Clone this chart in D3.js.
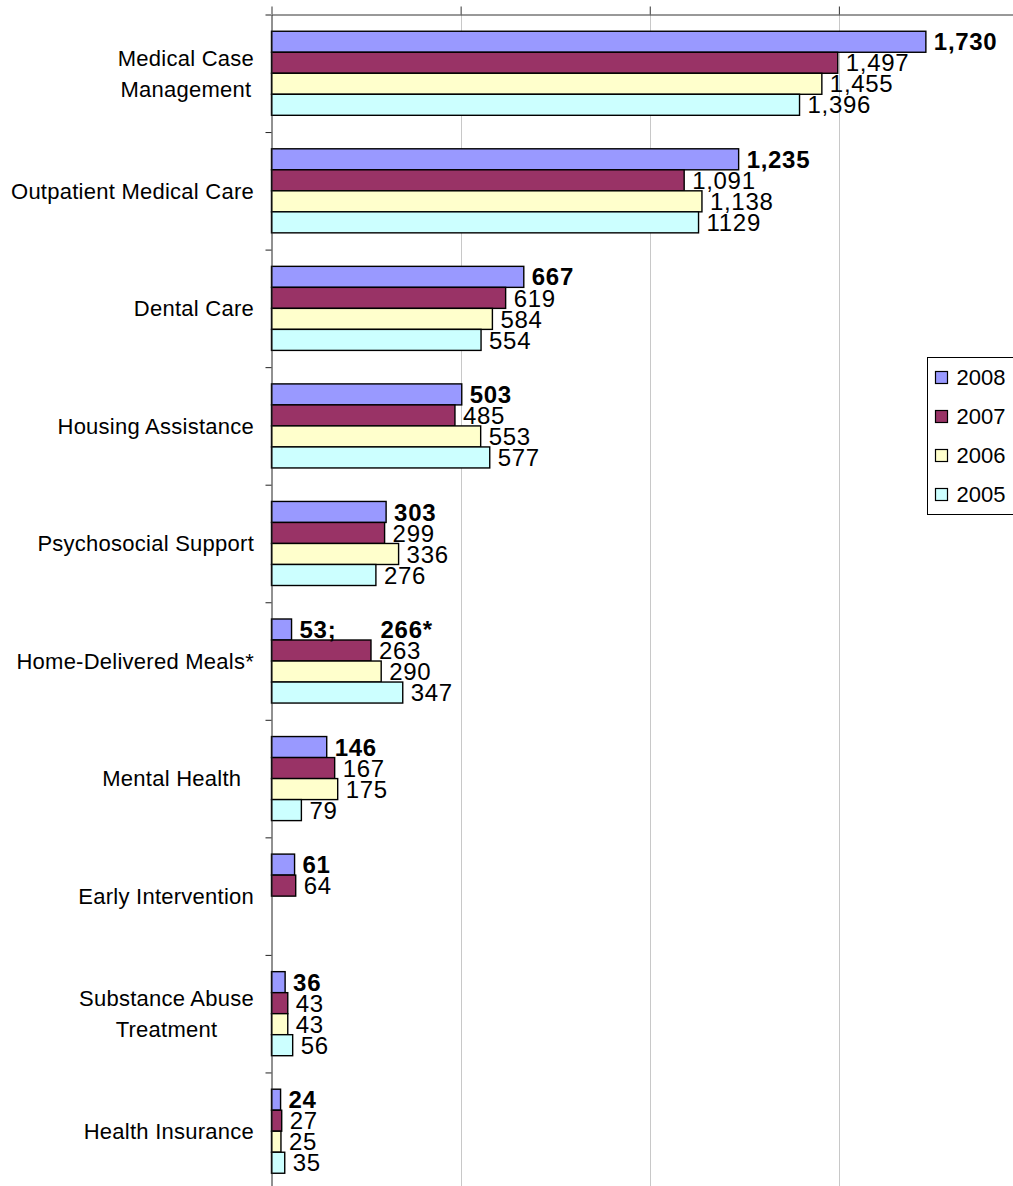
<!DOCTYPE html>
<html>
<head>
<meta charset="utf-8">
<script src="https://cdn.jsdelivr.net/npm/d3@7"></script>
<style>
  body { margin: 0; background: #fff; }
  svg { display: block; }
  text { font-family: "Liberation Sans", Arial, sans-serif; fill: #000; white-space: pre; }
</style>
</head>
<body>
<svg id="chart" width="1013" height="1186"></svg>
<script>
// Service categories (line breaks mark wrapped labels)
const categories = [
  "Medical Case\nManagement",
  "Outpatient Medical Care",
  "Dental Care",
  "Housing Assistance",
  "Psychosocial Support",
  "Home-Delivered Meals*",
  "Mental Health  ",
  "Early Intervention",
  "Substance Abuse\nTreatment",
  "Health Insurance"
];

const years = ["2008", "2007", "2006", "2005"];

// Clients served per year (null = no bar)
const values2008 = [1730, 1235, 667, 503, 303, 53, 146, 61, 36, 24];
const values2007 = [1497, 1091, 619, 485, 299, 263, 167, 64, 43, 27];
const values2006 = [1455, 1138, 584, 553, 336, 290, 175, null, 43, 25];
const values2005 = [1396, 1129, 554, 577, 276, 347, 79, null, 56, 35];

// Labels that differ from the plain formatted value
const labelOverrides2008 = { 5: "53;      266*" };
const labelOverrides2005 = { 1: "1129" };

const valueTicks = [0, 500, 1000, 1500, 2000];
const colors = ["#9999ff", "#993366", "#ffffcc", "#ccffff"];

const series = [
  { year: years[0], values: values2008, overrides: labelOverrides2008, bold: true },
  { year: years[1], values: values2007, overrides: {}, bold: false },
  { year: years[2], values: values2006, overrides: {}, bold: false },
  { year: years[3], values: values2005, overrides: labelOverrides2005, bold: false }
];

const svg = d3.select("#chart");

const plotLeft = 271.5, plotTop = 14.5;
const step = 117.55;
const plotBottom = plotTop + step * categories.length;

const x = d3.scaleLinear().domain([0, 2000]).range([plotLeft, 1028]);
const y = d3.scaleBand().domain(d3.range(categories.length))
  .range([plotTop, plotBottom]).paddingInner(0.285).paddingOuter(0.1425);
const ySeries = d3.scaleBand().domain(years).range([0, y.bandwidth()]);
const yBound = d3.scaleLinear().domain([0, categories.length]).range([plotTop, plotBottom]);

// Vertical gridlines
svg.append("g").selectAll("line")
  .data(valueTicks.filter(v => v > 0))
  .join("line")
  .attr("x1", d => Math.round(x(d)) + 0.5).attr("x2", d => Math.round(x(d)) + 0.5)
  .attr("y1", plotTop).attr("y2", plotBottom)
  .attr("stroke", "#c8c8c8").attr("stroke-width", 1);

// Bars
const fmt = d3.format(",");
series.forEach((s, si) => {
  const g = svg.append("g");
  const rows = s.values.map((v, i) => ({ v, i })).filter(d => d.v != null);
  g.selectAll("rect").data(rows).join("rect")
    .attr("x", x(0))
    .attr("y", d => y(d.i) + ySeries(s.year))
    .attr("width", d => x(d.v) - x(0))
    .attr("height", ySeries.bandwidth())
    .attr("fill", colors[si])
    .attr("stroke", "#000").attr("stroke-width", 1.4);
});

// Axes
const xAxis = d3.axisTop(x).tickValues(valueTicks).tickSizeInner(8).tickSizeOuter(0).tickFormat("");
const axTop = svg.append("g").attr("transform", `translate(0,${plotTop})`).call(xAxis);
axTop.selectAll("path,line").attr("stroke", "#333");

const yAxis = d3.axisLeft(yBound).tickValues(d3.range(categories.length + 1)).tickSizeInner(6).tickSizeOuter(0).tickFormat("");
const axLeft = svg.append("g").attr("transform", `translate(${plotLeft},0)`).call(yAxis);
axLeft.selectAll("path,line").attr("stroke", "#222");

// Value labels
series.forEach((s, si) => {
  const rows = s.values.map((v, i) => ({ v, i })).filter(d => d.v != null);
  svg.append("g").selectAll("text").data(rows).join("text")
    .attr("x", d => x(d.v) + 8)
    .attr("y", d => y(d.i) + ySeries(s.year) + ySeries.bandwidth() / 2)
    .attr("dy", "0.36em")
    .style("font-size", "24px")
    .style("letter-spacing", "0.7px")
    .style("font-weight", s.bold ? "bold" : "normal")
    .text(d => s.overrides[d.i] !== undefined ? s.overrides[d.i] : fmt(d.v));
});

// Category labels
const labelRight = 254;
const lineH = 31;
categories.forEach((c, i) => {
  const lines = c.split("\n");
  const cy = y(i) + y.bandwidth() / 2;
  const t = svg.append("text")
    .style("font-size", "22px")
    .style("letter-spacing", "0.25px");
  lines.forEach((ln, li) => {
    t.append("tspan")
      .attr("y", cy + (li - (lines.length - 1) / 2) * lineH)
      .attr("dy", "0.36em")
      .text(ln);
  });
  if (lines.length > 1) {
    let maxW = 0;
    t.selectAll("tspan").each(function () { maxW = Math.max(maxW, this.getComputedTextLength()); });
    t.attr("text-anchor", "middle");
    t.selectAll("tspan").attr("x", labelRight - maxW / 2);
  } else {
    t.attr("text-anchor", "end");
    t.selectAll("tspan").attr("x", labelRight);
  }
});

// Legend
const legend = svg.append("g").attr("transform", "translate(927.5,357.5)");
legend.append("rect").attr("width", 100).attr("height", 157)
  .attr("fill", "#fff").attr("stroke", "#000").attr("stroke-width", 1);
const legendY = d3.scalePoint().domain(years).range([20, 137]);
years.forEach((yr, i) => {
  legend.append("rect")
    .attr("x", 8).attr("y", legendY(yr) - 6)
    .attr("width", 12).attr("height", 12)
    .attr("fill", colors[i]).attr("stroke", "#000").attr("stroke-width", 1.2);
  legend.append("text")
    .attr("x", 29).attr("y", legendY(yr)).attr("dy", "0.36em")
    .style("font-size", "22px")
    .text(yr);
});
</script>
</body>
</html>
